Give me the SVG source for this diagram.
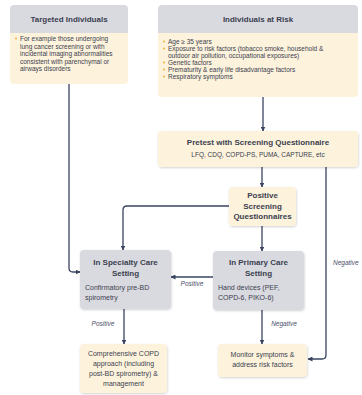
<svg xmlns="http://www.w3.org/2000/svg" width="362" height="395" viewBox="0 0 362 395">
<style>
text{font-family:"Liberation Sans",Arial,sans-serif;fill:#3b4050}
.t{font-weight:bold;font-size:8px;text-anchor:middle}
.b{font-size:6.5px}
.n{font-size:7px}
.c{text-anchor:middle}
.lbl{font-size:6.5px;font-style:italic;fill:#4a5068}
.hdr{fill:#d9dae0}
.cream{fill:#fdf3dc}
.gray{fill:#d9dadf}
.sh{filter:url(#sh)}
.conn{fill:none;stroke:#3a4461;stroke-width:1.3}
.dot{fill:#eeb23a}
</style>
<defs>
<filter id="sh" x="-10%" y="-10%" width="120%" height="130%"><feDropShadow dx="0.5" dy="1" stdDeviation="0.8" flood-color="#000" flood-opacity="0.18"/></filter>
<marker id="ah" viewBox="0 0 10 10" refX="9" refY="5" markerWidth="5" markerHeight="5" orient="auto" markerUnits="userSpaceOnUse"><path d="M0,0 L10,5 L0,10 Z" fill="#3a4461"/></marker>
<clipPath id="c1"><rect x="10" y="5" width="118" height="79" rx="4"/></clipPath>
<clipPath id="c2"><rect x="158" y="5" width="200" height="92" rx="4"/></clipPath>
</defs>

<g id="connectors">
<path class="conn" d="M69,84 V268 Q69,272 73,272 H80" marker-end="url(#ah)"/>
<path class="conn" d="M263,97 V131" marker-end="url(#ah)"/>
<path class="conn" d="M262,167 V187" marker-end="url(#ah)"/>
<path class="conn" d="M229,206 H127 Q123,206 123,210 V250" marker-end="url(#ah)"/>
<path class="conn" d="M262,226 V251" marker-end="url(#ah)"/>
<path class="conn" d="M326,167 V355 Q326,359 322,359 H308" marker-end="url(#ah)"/>
<path class="conn" d="M213,277 H171" marker-end="url(#ah)"/>
<path class="conn" d="M124,309 V344" marker-end="url(#ah)"/>
<path class="conn" d="M262,310 V344" marker-end="url(#ah)"/>
<text class="lbl" x="192" y="286" text-anchor="middle">Positive</text>
<text class="lbl" x="103" y="326" text-anchor="middle">Positive</text>
<text class="lbl" x="284" y="326" text-anchor="middle">Negative</text>
<text class="lbl" x="333" y="265">Negative</text>
</g>

<g id="targeted">
<g class="sh" clip-path="url(#c1)">
<rect class="cream" x="10" y="5" width="118" height="79"/>
<rect class="hdr" x="10" y="5" width="118" height="28"/>
</g>
<text class="t" x="69" y="22">Targeted Individuals</text>
<circle class="dot" cx="16" cy="38.5" r="1"/>
<text class="b" x="20" y="41">For example those undergoing</text>
<text class="b" x="20" y="48.5">lung cancer screening or with</text>
<text class="b" x="20" y="56">incidental imaging abnormalities</text>
<text class="b" x="20" y="63.5">consistent with parenchymal or</text>
<text class="b" x="20" y="71">airways disorders</text>
</g>

<g id="risk">
<g class="sh" clip-path="url(#c2)">
<rect class="cream" x="158" y="5" width="200" height="92"/>
<rect class="hdr" x="158" y="5" width="200" height="28"/>
</g>
<text class="t" x="258" y="22">Individuals at Risk</text>
<circle class="dot" cx="164" cy="41.5" r="1"/>
<circle class="dot" cx="164" cy="48.5" r="1"/>
<circle class="dot" cx="164" cy="62.5" r="1"/>
<circle class="dot" cx="164" cy="69.5" r="1"/>
<circle class="dot" cx="164" cy="76.5" r="1"/>
<text class="b" x="168" y="44">Age ≥  35 years</text>
<text class="b" x="168" y="51">Exposure to risk factors (tobacco smoke, household &amp;</text>
<text class="b" x="168" y="58">outdoor air pollution, occupational exposures)</text>
<text class="b" x="168" y="65">Genetic factors</text>
<text class="b" x="168" y="72">Prematurity &amp; early life disadvantage factors</text>
<text class="b" x="168" y="79">Respiratory symptoms</text>
</g>

<g id="pretest">
<rect class="cream sh" x="158" y="131" width="200" height="36" rx="4"/>
<text class="t" x="258" y="145">Pretest with Screening Questionnaire</text>
<text class="b c" x="258" y="157">LFQ, CDQ, COPD-PS, PUMA, CAPTURE, etc</text>
</g>

<g id="positive-screening">
<rect class="cream sh" x="229" y="187" width="67" height="39" rx="4"/>
<text class="t" x="262.5" y="198">Positive</text>
<text class="t" x="262.5" y="208.5">Screening</text>
<text class="t" x="262.5" y="219">Questionnaires</text>
</g>

<g id="specialty">
<rect class="gray sh" x="80" y="250" width="91" height="59" rx="4"/>
<text class="t" x="125.5" y="265">In Specialty Care</text>
<text class="t" x="125.5" y="275.5">Setting</text>
<text class="n" x="85" y="290">Confirmatory pre-BD</text>
<text class="n" x="85" y="300">spirometry</text>
</g>

<g id="primary">
<rect class="gray sh" x="213" y="251" width="91" height="59" rx="4"/>
<text class="t" x="258.5" y="265">In Primary Care</text>
<text class="t" x="258.5" y="275.5">Setting</text>
<text class="n" x="218" y="290">Hand devices (PEF,</text>
<text class="n" x="218" y="300">COPD-6, PIKO-6)</text>
</g>

<g id="comprehensive">
<rect class="cream sh" x="80" y="344" width="87" height="49" rx="4"/>
<text class="n c" x="123.5" y="356">Comprehensive COPD</text>
<text class="n c" x="123.5" y="366">approach (including</text>
<text class="n c" x="123.5" y="376">post-BD spirometry) &amp;</text>
<text class="n c" x="123.5" y="386">management</text>
</g>

<g id="monitor">
<rect class="cream sh" x="218" y="344" width="89" height="33" rx="4"/>
<text class="n c" x="262.5" y="357">Monitor symptoms &amp;</text>
<text class="n c" x="262.5" y="367">address risk factors</text>
</g>
</svg>
